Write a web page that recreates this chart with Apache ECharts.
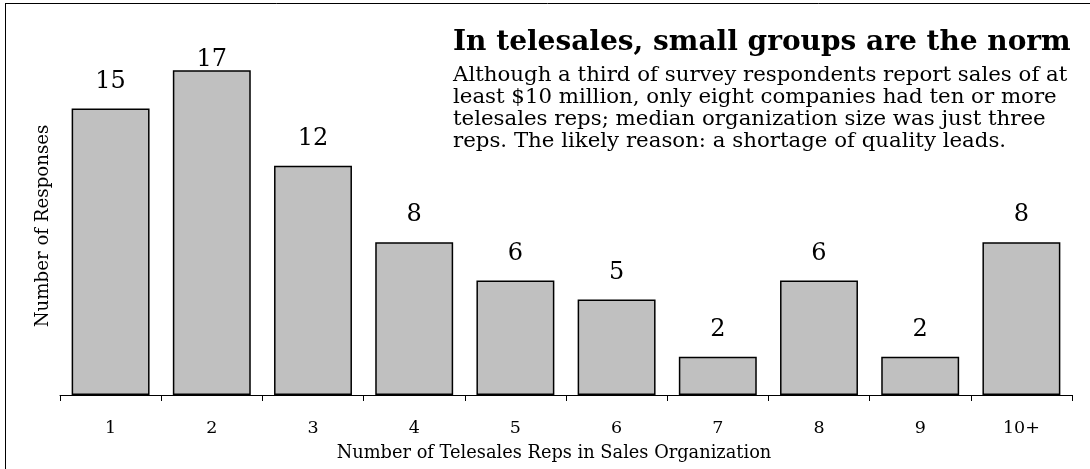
<!DOCTYPE html>
<html><head><meta charset="utf-8">
<script src="https://cdn.jsdelivr.net/npm/echarts@6/dist/echarts.min.js"></script>
<style>html,body{margin:0;padding:0;background:#fff}#c{width:1090px;height:469px}</style>
</head><body><div id="c"></div>
<script>
const categories = ['1','2','3','4','5','6','7','8','9','10+'];
const responses = [15,17,12,8,6,5,2,6,2,8];
const titleText = 'In telesales, small groups are the norm';
const subLines = [
  'Although a third of survey respondents report sales of at',
  'least $10 million, only eight companies had ten or more',
  'telesales reps; median organization size was just three',
  'reps. The likely reason: a shortage of quality leads.'
];
const xName = 'Number of Telesales Reps in Sales Organization';
const yName = 'Number of Responses';
const F = 'DejaVu Serif';
const chart = echarts.init(document.getElementById('c'));
chart.setOption({
  animation:false,
  backgroundColor:'#fff',
  grid:{left:60,right:18,top:13,bottom:74,containLabel:false},
  title:{
    text:titleText,
    subtext:subLines.join('\n'),
    left:448, top:24, itemGap:7,
    textStyle:{fontFamily:F,fontWeight:'bold',fontSize:28,color:'#000'},
    subtextStyle:{fontFamily:F,fontSize:21.3,lineHeight:22,color:'#000'}
  },
  xAxis:{
    type:'category', data:categories,
    axisLine:{lineStyle:{color:'#000',width:1}},
    axisTick:{show:true,length:6,inside:false,lineStyle:{color:'#000'}},
    axisLabel:{fontFamily:F,fontSize:17.5,color:'#000',margin:24}
  },
  yAxis:{type:'value',min:0,max:20,show:false},
  graphic:[
    {type:'line',shape:{x1:5,y1:3.5,x2:1090,y2:3.5},style:{stroke:'#000',lineWidth:1}},
    {type:'line',shape:{x1:5.5,y1:3,x2:5.5,y2:469},style:{stroke:'#000',lineWidth:1}},
    {type:'text',x:554,y:453,style:{text:xName,fontFamily:F,fontSize:17.8,fill:'#000',align:'center',verticalAlign:'middle'}},
    {type:'text',rotation:Math.PI/2,x:43,y:226,style:{text:yName,fontFamily:F,fontSize:18.2,fill:'#000',align:'center',verticalAlign:'middle'}}
  ],
  series:[{
    type:'bar', barCategoryGap:'23%',
    data:responses.map((v,i)=>({value:v,label:{distance: v===17?-1:15}})),
    itemStyle:{color:'#c0c0c0',borderColor:'#000',borderWidth:1.5},
    label:{show:true,position:'top',fontFamily:F,fontSize:24,color:'#000'}
  }]
});
</script></body></html>
